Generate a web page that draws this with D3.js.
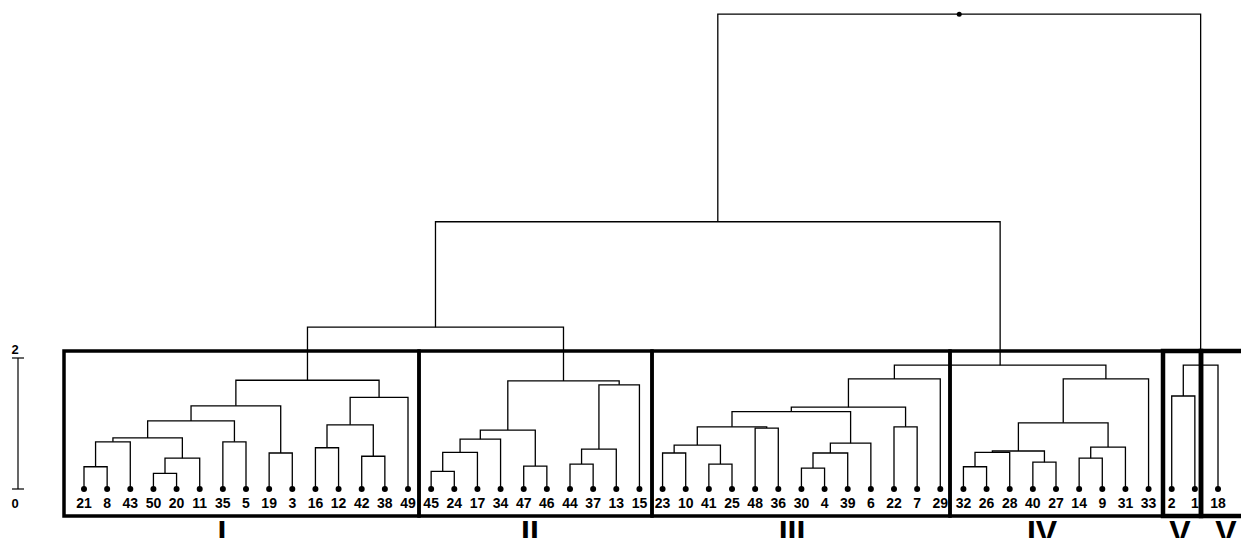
<!DOCTYPE html>
<html>
<head>
<meta charset="UTF-8">
<script src="https://cdn.jsdelivr.net/npm/d3@7"></script>
<style>
  body { margin: 0; background: #fff; }
  text { font-family: "Liberation Sans", Arial, sans-serif; font-weight: bold; }
</style>
</head>
<body>
<svg id="plot" width="1241" height="538"></svg>
<script>
// leaf order, left to right
var leaves = ["21","8","43","50","20","11","35","5","19","3","16","12","42","38","49",
  "45","24","17","34","47","46","44","37","13","15",
  "23","10","41","25","48","36","30","4","39","6","22","7","29",
  "32","26","28","40","27","14","9","31","33",
  "2","1","18"];

// merges: [left, right, height]; strings are leaves, numbers are earlier merge indices
var merges = [
  ["21","8",0.34], ["43",0,0.72], ["50","20",0.24], [2,"11",0.47], [1,3,0.78],   // 0-4
  ["35","5",0.72], [4,5,1.04], ["19","3",0.55], [6,7,1.27],                      // 5-8
  ["16","12",0.63], ["42","38",0.50], [9,10,0.98], [11,"49",1.40], [8,12,1.66],  // 9-13
  ["45","24",0.27], [14,"17",0.56], [15,"34",0.76], ["47","46",0.35], [16,17,0.90], // 14-18
  ["44","37",0.38], [19,"13",0.61], [20,"15",1.59], [18,21,1.65],                // 19-22
  [13,22,2.47],                                                                  // 23
  ["23","10",0.55], ["41","25",0.38], [24,25,0.67], ["48","36",0.93], [26,27,0.95], // 24-28
  ["30","4",0.32], [29,"39",0.55], [30,"6",0.70], [28,31,1.18], ["22","7",0.95],   // 29-33
  [32,33,1.25], [34,"29",1.68],                                                    // 34-35
  ["32","26",0.34], [36,"28",0.56], ["40","27",0.41], [37,38,0.58],               // 36-39
  ["14","9",0.47], [40,"31",0.64], [39,41,1.01], [42,"33",1.68],                   // 40-43
  [35,43,1.89], [23,44,4.08],                                                      // 44-45
  ["2","1",1.42], [46,"18",1.89], [45,47,7.25]                                     // 46-48
];

var groupNames = ["I", "II", "III", "IV", "V", "V"];
var groupLabelX = [222, 530, 792, 1042, 1180, 1226];
var boxEdges = [64, 419, 652, 950, 1163, 1201, 1246];

var svg = d3.select("#plot");
var x = d3.scalePoint().domain(leaves).range([84, 1218]);
var y = d3.scaleLinear().domain([0, 2]).range([489, 358]);

// build hierarchy from merges
function toNode(ref) {
  if (typeof ref === "string") return {name: ref, h: 0};
  var m = merges[ref];
  return {h: m[2], children: [toNode(m[0]), toNode(m[1])]};
}
var root = d3.hierarchy(toNode(merges.length - 1));
root.eachAfter(function (d) {
  d.px = d.children ? (d.children[0].px + d.children[1].px) / 2 : x(d.data.name);
  d.py = y(d.data.h);
});

var g = svg.append("g").attr("fill", "none").attr("stroke", "#000").attr("stroke-width", 1.3);
root.descendants().forEach(function (d) {
  if (!d.children) return;
  var a = d.children[0], b = d.children[1];
  g.append("path").attr("d",
    "M" + a.px + "," + a.py + "V" + d.py + "H" + b.px + "V" + b.py);
});
svg.append("circle").attr("cx", root.px).attr("cy", root.py).attr("r", 2.5);

// leaf dots and labels
svg.selectAll("circle.leaf").data(root.leaves()).join("circle")
  .attr("class", "leaf").attr("cx", function (d) { return d.px; })
  .attr("cy", function (d) { return d.py; }).attr("r", 3);
svg.selectAll("text.leaf").data(root.leaves()).join("text")
  .attr("class", "leaf").attr("x", function (d) { return d.px; }).attr("y", 508)
  .attr("text-anchor", "middle").attr("font-size", 14).text(function (d) { return d.data.name; });

// group boxes
var boxTop = 351, boxBottom = 516;
groupNames.forEach(function (name, i) {
  var x0 = boxEdges[i], x1 = boxEdges[i + 1];
  svg.append("rect").attr("x", x0).attr("y", boxTop).attr("width", x1 - x0)
    .attr("height", boxBottom - boxTop).attr("fill", "none")
    .attr("stroke", "#000").attr("stroke-width", (name === "V") ? 4.5 : 3.5);
  svg.append("text").attr("x", groupLabelX[i]).attr("y", 543).attr("text-anchor", "middle")
    .attr("font-size", 32).text(name);
});

// scale bar
var sb = svg.append("g").attr("stroke", "#000").attr("stroke-width", 1.2);
sb.append("line").attr("x1", 18).attr("x2", 18).attr("y1", y(2)).attr("y2", y(0));
[0, 2].forEach(function (v) {
  sb.append("line").attr("x1", 12).attr("x2", 24).attr("y1", y(v)).attr("y2", y(v));
});
svg.append("text").attr("x", 15).attr("y", y(2) - 4).attr("font-size", 13)
  .attr("font-weight", "normal").attr("text-anchor", "middle").text("2");
svg.append("text").attr("x", 15).attr("y", 508).attr("font-size", 13)
  .attr("font-weight", "normal").attr("text-anchor", "middle").text("0");
</script>
</body>
</html>
